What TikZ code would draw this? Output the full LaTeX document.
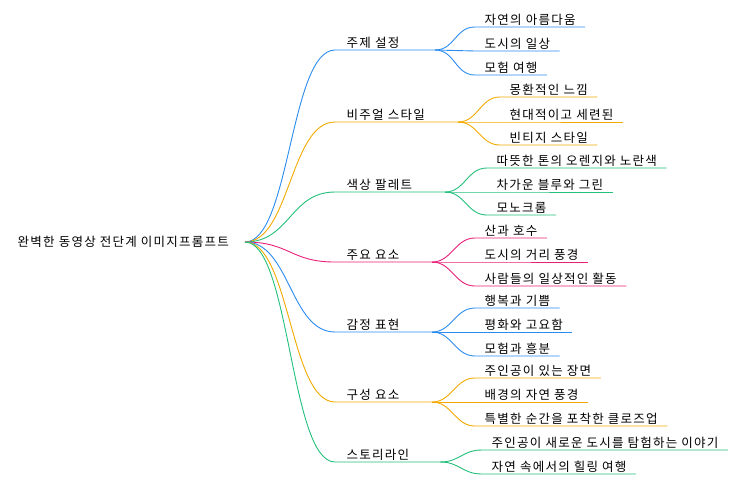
\documentclass[tikz,border=0pt]{standalone}
\usepackage{fontspec}
\setmainfont[LetterSpace=10]{Noto Sans CJK KR}
\usetikzlibrary{calc}
\definecolor{cblue}{HTML}{2B8CF0}
\definecolor{corange}{HTML}{F2A900}
\definecolor{cgreen}{HTML}{22C07A}
\definecolor{cpink}{HTML}{E8207A}
\tikzset{
  txt/.style = {anchor=south west, inner sep=1.5pt, font=\fontsize{12.5}{14}\selectfont},
  br/.style = {draw=#1, line width=0.9pt},
}
\begin{document}
\begin{tikzpicture}[x=1pt, y=-1pt]
  \useasboundingbox (0,0) rectangle (743,483);
  %root
  \node [txt, anchor=west] (root) at (16,242) {완벽한 동영상 전단계 이미지프롬프트};
  \coordinate (r) at (245,242);

  %main branches
  \foreach \n/\y/\xe/\col/\lab in {
      1/50/435/cblue/주제 설정,
      2/122/458/corange/비주얼 스타일,
      3/192/445/cgreen/색상 팔레트,
      4/262/432/cpink/주요 요소,
      5/332/432/cblue/감정 표현,
      6/402/432/corange/구성 요소,
      7/462/440/cgreen/스토리라인}{
    \node [txt] (b\n) at (345,\y) {\lab};
    \coordinate (bs\n) at (335,\y);
    \coordinate (be\n) at (\xe,\y);
    \draw [br=\col] (r) .. controls (290,242) and (290,\y) .. (bs\n) -- (be\n);
  }

  %leaves
  \foreach \p/\col/\xs/\y/\lab [count=\i] in {
      1/cblue/475/27/자연의 아름다움,
      1/cblue/475/51/도시의 일상,
      1/cblue/475/75/모험 여행,
      2/corange/500/97/몽환적인 느낌,
      2/corange/500/122/현대적이고 세련된,
      2/corange/500/145/빈티지 스타일,
      3/cgreen/487/168/따뜻한 톤의 오렌지와 노란색,
      3/cgreen/487/192/차가운 블루와 그린,
      3/cgreen/487/215/모노크롬,
      4/cpink/475/238/산과 호수,
      4/cpink/475/262/도시의 거리 풍경,
      4/cpink/475/286/사람들의 일상적인 활동,
      5/cblue/475/308/행복과 기쁨,
      5/cblue/475/332/평화와 고요함,
      5/cblue/475/356/모험과 흥분,
      6/corange/475/378/주인공이 있는 장면,
      6/corange/475/402/배경의 자연 풍경,
      6/corange/475/426/특별한 순간을 포착한 클로즈업,
      7/cgreen/482/450/주인공이 새로운 도시를 탐험하는 이야기,
      7/cgreen/482/474/자연 속에서의 힐링 여행}{
    \node [txt] (l\i) at (\xs+8,\y) {\lab};
    \coordinate (ls\i) at (\xs,\y);
    \draw [br=\col] (be\p) .. controls ($(be\p)+(20,0)$) and ($(ls\i)-(20,0)$) .. (ls\i)
      -- ($(ls\i -| l\i.east)+(8,0)$);
  }
\end{tikzpicture}
\end{document}
